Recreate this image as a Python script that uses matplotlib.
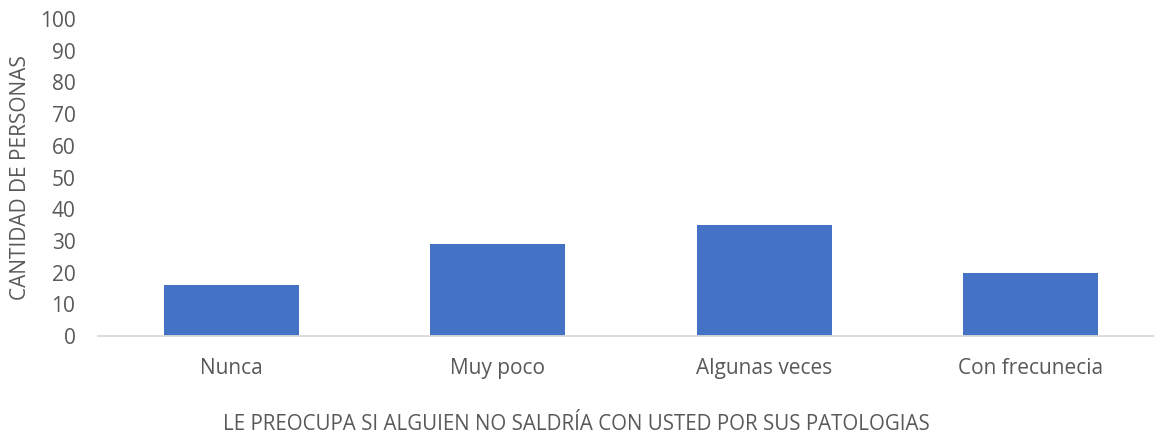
import matplotlib
matplotlib.use("Agg")
import matplotlib.pyplot as plt

categories = ["Nunca", "Muy poco", "Algunas veces", "Con frecunecia"]
values = [16, 29, 35, 20]
yticks = [0, 10, 20, 30, 40, 50, 60, 70, 80, 90, 100]

plt.rcParams['font.family'] = ['Open Sans', 'DejaVu Sans']
txt = '#595959'

fig = plt.figure(figsize=(11.54, 4.34), dpi=100)
ax = fig.add_axes([0.0852, 0.226, 0.923, 0.730])
x = range(len(categories))
ax.bar(x, values, width=0.507, color='#4472C4', zorder=2)
ax.set_xlim(-0.5, len(categories) - 0.5)
ax.set_ylim(0, 100)
ax.set_yticks(yticks)
ax.set_xticks(list(x))
ax.set_xticklabels(categories)
for s in ['top', 'right', 'left']:
    ax.spines[s].set_visible(False)
ax.spines['bottom'].set_color('#D9D9D9')
ax.spines['bottom'].set_linewidth(1.3)
ax.tick_params(axis='both', length=0, colors=txt, labelsize=15)
ax.tick_params(axis='x', pad=16)
ax.tick_params(axis='y', pad=16.5)
fig.text(0.4995, 1 - 430 / 434, "LE PREOCUPA SI ALGUIEN NO SALDRÍA CON USTED POR SUS PATOLOGIAS",
         color=txt, fontsize=14.8, ha='center', va='baseline')
ax.set_ylabel("CANTIDAD DE PERSONAS", color=txt, fontsize=15, labelpad=6)
fig.savefig("out.png", dpi=100)
